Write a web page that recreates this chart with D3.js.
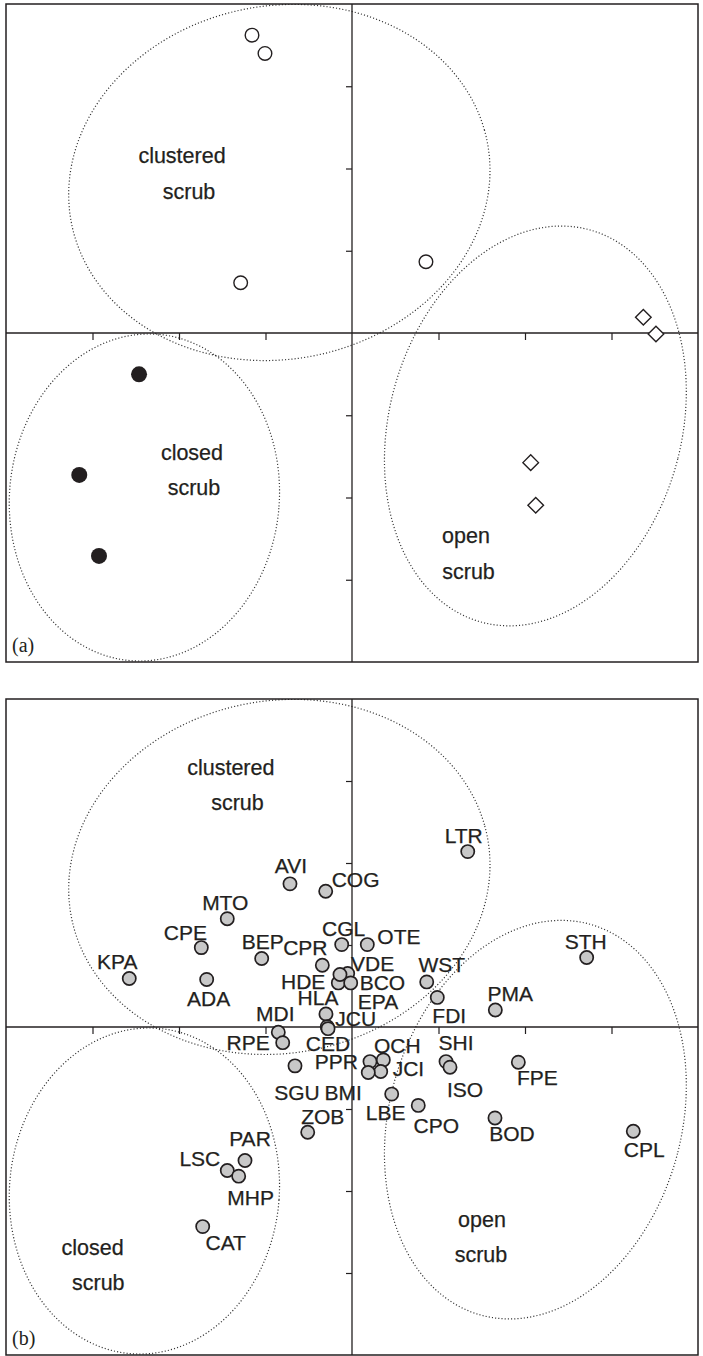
<!DOCTYPE html>
<html>
<head>
<meta charset="utf-8">
<script src="https://cdn.jsdelivr.net/npm/d3@7/dist/d3.min.js"></script>
<style>
    body { margin: 0; background: #fff; }
    text { font-family: "Liberation Sans", Arial, Helvetica, sans-serif; fill: #231f20; stroke: #231f20; stroke-width: 0.25px; }
</style>
</head>
<body>
<div id="chart"></div>
<script>
// Panel (a): site scores, one array per scrub type
var clusteredSites = [[-1.156, 3.621], [-1.006, 3.399], [-1.287, 0.611], [0.855, 0.866]];
var closedSites = [[-2.462, -0.502], [-3.153, -1.725], [-2.925, -2.710]];
var openSites = [[3.368, 0.191], [3.514, -0.012], [2.066, -1.576], [2.124, -2.094]];

// Panel (b): species codes and their scores
var species = ["AVI", "COG", "MTO", "CPE", "BEP", "CPR", "CGL", "KPA", "ADA", "OTE",
               "VDE", "HDE", "BCO", "EPA", "WST", "FDI", "HLA", "JCU", "CED", "MDI",
               "RPE", "SGU", "PPR", "OCH", "JCI", "BMI", "SHI", "ISO", "FPE", "LBE",
               "CPO", "BOD", "CPL", "LTR", "STH", "PMA", "ZOB", "PAR", "LSC", "MHP", "CAT"];
var speciesX = [-0.717, -0.304, -1.442, -1.742, -1.044, -0.343, -0.119, -2.575, -1.680, 0.177,
                -0.050, -0.158, -0.015, -0.139, 0.864, 0.986, -0.301, -0.286, -0.277, -0.852,
                -0.801, -0.659, 0.208, 0.362, 0.332, 0.188, 1.087, 1.133, 1.923, 0.459,
                0.766, 1.653, 3.252, 1.338, 2.713, 1.657, -0.512, -1.237, -1.442, -1.310, -1.726];
var speciesY = [1.746, 1.656, 1.321, 0.968, 0.835, 0.753, 1.005, 0.592, 0.580, 1.005,
                0.652, 0.538, 0.538, 0.640, 0.550, 0.361, 0.158, 0.004, -0.020, -0.064,
                -0.191, -0.474, -0.422, -0.401, -0.543, -0.555, -0.422, -0.490, -0.429, -0.818,
                -0.956, -1.109, -1.272, 2.139, 0.847, 0.207, -1.284, -1.628, -1.750, -1.819, -2.434];

// Scrub type envelopes (score units), same in both panels
var envelopes = [
    { cx: -0.84, cy: 1.83, rx: 2.455, ry: 2.143, angle: 15 },
    { cx: -2.40, cy: -2.0, rx: 1.56, ry: 1.99, angle: -4 },
    { cx: 2.12, cy: -1.13, rx: 1.694, ry: 2.466, angle: -13.5 }
];

// Region names written inside the envelopes (score units)
var regionLabelsA = [
    ["clustered", -1.965, 2.067], ["scrub", -1.884, 1.629],
    ["closed", -1.850, -1.544], ["scrub", -1.827, -1.970],
    ["open", 1.318, -2.550], ["scrub", 1.347, -2.991]
];
var regionLabelsB = [
    ["clustered", -1.401, 3.073], ["scrub", -1.324, 2.646],
    ["closed", -2.998, -2.780], ["scrub", -2.933, -3.207],
    ["open", 1.503, -2.435], ["scrub", 1.491, -2.862]
];

var tickValues = [-3, -2, -1, 1, 2, 3];

// Label placement around each species point: dx, dy (px), anchor
var labelPos = {
    AVI: [1, -11, "middle"], COG: [6, -4, "start"], MTO: [-2, -9, "middle"],
    CPE: [-16, -8, "middle"], BEP: [1, -10, "middle"], CPR: [-17, -10, "middle"],
    CGL: [2, -9, "middle"], KPA: [-12, -9, "middle"], ADA: [2, 27, "middle"],
    OTE: [10, -1, "start"], VDE: [25, -3, "middle"], HDE: [-13, 6, "end"],
    BCO: [9, 7, "start"], EPA: [38, 34, "middle"], WST: [15, -10, "middle"],
    FDI: [12, 26, "middle"], HLA: [-8, -9, "middle"], JCU: [8, -1, "start"],
    CED: [0, 22, "middle"], MDI: [-3, -11, "middle"], RPE: [-13, 7, "end"],
    SGU: [2, 34, "middle"], PPR: [-12, 7, "end"], OCH: [14, -7, "middle"],
    JCI: [12, 4, "start"], BMI: [-25, 27, "middle"], SHI: [10, -12, "middle"],
    ISO: [15, 30, "middle"], FPE: [19, 23, "middle"], LBE: [-6, 26, "middle"],
    CPO: [18, 28, "middle"], BOD: [17, 23, "middle"], CPL: [11, 26, "middle"],
    LTR: [-4, -9, "middle"], STH: [-1, -9, "middle"], PMA: [15, -9, "middle"],
    ZOB: [15, -8, "middle"], PAR: [5, -14, "middle"], LSC: [-7, -5, "end"],
    MHP: [12, 29, "middle"], CAT: [23, 23, "middle"]
};

var width = 703, height = 1356;
var ink = "#231f20";

var svg = d3.select("#chart").append("svg")
    .attr("width", width)
    .attr("height", height);

var xScale = d3.scaleLinear().domain([-4, 4]).range([6, 698]);
var yScaleA = d3.scaleLinear().domain([-4, 4]).range([662, 4]);
var yScaleB = d3.scaleLinear().domain([-4, 4]).range([1355, 699]);

function ellipsePath(e, yScale) {
    var a = e.angle * Math.PI / 180;
    var pts = d3.range(0, 360, 1).map(function (deg) {
        var t = deg * Math.PI / 180;
        var ex = e.cx + e.rx * Math.cos(t) * Math.cos(a) - e.ry * Math.sin(t) * Math.sin(a);
        var ey = e.cy + e.rx * Math.cos(t) * Math.sin(a) + e.ry * Math.sin(t) * Math.cos(a);
        return [xScale(ex), yScale(ey)];
    });
    return d3.line().curve(d3.curveLinearClosed)(pts);
}

// Frame, axes, envelopes and region names shared by both panels
function drawPanel(id, yScale, regionLabels, tag) {
    var g = svg.append("g").attr("id", id);
    var x0 = xScale.range()[0], x1 = xScale.range()[1];
    var y0 = yScale.range()[1], y1 = yScale.range()[0];

    svg.append("clipPath").attr("id", "clip-" + id)
        .append("rect")
        .attr("x", x0).attr("y", y0)
        .attr("width", x1 - x0).attr("height", y1 - y0);

    g.append("g")
        .attr("clip-path", "url(#clip-" + id + ")")
        .selectAll("path")
        .data(envelopes)
        .enter().append("path")
        .attr("d", function (d) { return ellipsePath(d, yScale); })
        .attr("fill", "none")
        .attr("stroke", "#333")
        .attr("stroke-width", 1.2)
        .attr("stroke-dasharray", "1.1 2.1");

    // cross axes through the origin
    g.append("line")
        .attr("x1", x0).attr("x2", x1)
        .attr("y1", yScale(0)).attr("y2", yScale(0))
        .attr("stroke", ink).attr("stroke-width", 1.3);
    g.append("line")
        .attr("x1", xScale(0)).attr("x2", xScale(0))
        .attr("y1", y0).attr("y2", y1)
        .attr("stroke", ink).attr("stroke-width", 1.3);

    var xAxis = d3.axisBottom(xScale).tickValues(tickValues).tickSize(7).tickFormat("");
    var yAxis = d3.axisLeft(yScale).tickValues(tickValues).tickSize(6).tickFormat("");

    g.append("g")
        .attr("transform", "translate(0," + yScale(0) + ")")
        .call(xAxis)
        .call(function (s) { s.select(".domain").remove(); })
        .selectAll("line").attr("stroke", ink).attr("stroke-width", 1.2);

    g.append("g")
        .attr("transform", "translate(" + xScale(0) + ",0)")
        .call(yAxis)
        .call(function (s) { s.select(".domain").remove(); })
        .selectAll("line").attr("stroke", ink).attr("stroke-width", 1.2);

    g.append("rect")
        .attr("x", x0).attr("y", y0)
        .attr("width", x1 - x0).attr("height", y1 - y0)
        .attr("fill", "none")
        .attr("stroke", ink)
        .attr("stroke-width", 1.5);

    g.selectAll(".region")
        .data(regionLabels)
        .enter().append("text")
        .attr("class", "region")
        .attr("x", function (d) { return xScale(d[1]); })
        .attr("y", function (d) { return yScale(d[2]); })
        .attr("text-anchor", "middle")
        .style("font-size", "21.5px")
        .text(function (d) { return d[0]; });

    g.append("text")
        .attr("x", x0 + 6)
        .attr("y", y1 - 10)
        .style("font-family", "'Liberation Serif', 'Times New Roman', serif")
        .style("font-size", "20px")
        .style("stroke-width", "0px")
        .text(tag);

    return g;
}

// Panel (a)
var gA = drawPanel("panelA", yScaleA, regionLabelsA, "(a)");

gA.selectAll(".clustered")
    .data(clusteredSites)
    .enter().append("circle")
    .attr("cx", function (d) { return xScale(d[0]); })
    .attr("cy", function (d) { return yScaleA(d[1]); })
    .attr("r", 6.8)
    .attr("fill", "#fff")
    .attr("stroke", ink)
    .attr("stroke-width", 1.4);

gA.selectAll(".closed")
    .data(closedSites)
    .enter().append("circle")
    .attr("cx", function (d) { return xScale(d[0]); })
    .attr("cy", function (d) { return yScaleA(d[1]); })
    .attr("r", 8)
    .attr("fill", ink);

gA.selectAll(".open")
    .data(openSites)
    .enter().append("path")
    .attr("transform", function (d) { return "translate(" + xScale(d[0]) + "," + yScaleA(d[1]) + ")"; })
    .attr("d", "M0,-7.8L7.8,0L0,7.8L-7.8,0Z")
    .attr("fill", "#fff")
    .attr("stroke", ink)
    .attr("stroke-width", 1.4);

// Panel (b)
var gB = drawPanel("panelB", yScaleB, regionLabelsB, "(b)");

var speciesPts = species.map(function (name, i) {
    return { name: name, x: speciesX[i], y: speciesY[i] };
});

gB.selectAll(".sp")
    .data(speciesPts)
    .enter().append("circle")
    .attr("class", "sp")
    .attr("cx", function (d) { return xScale(d.x); })
    .attr("cy", function (d) { return yScaleB(d.y); })
    .attr("r", 6.6)
    .attr("fill", "#c8c8c8")
    .attr("stroke", ink)
    .attr("stroke-width", 1.7);

gB.selectAll(".splabel")
    .data(speciesPts)
    .enter().append("text")
    .attr("class", "splabel")
    .attr("x", function (d) { return xScale(d.x) + labelPos[d.name][0]; })
    .attr("y", function (d) { return yScaleB(d.y) + labelPos[d.name][1]; })
    .attr("text-anchor", function (d) { return labelPos[d.name][2]; })
    .style("font-size", "21px")
    .text(function (d) { return d.name; });
</script>
</body>
</html>
